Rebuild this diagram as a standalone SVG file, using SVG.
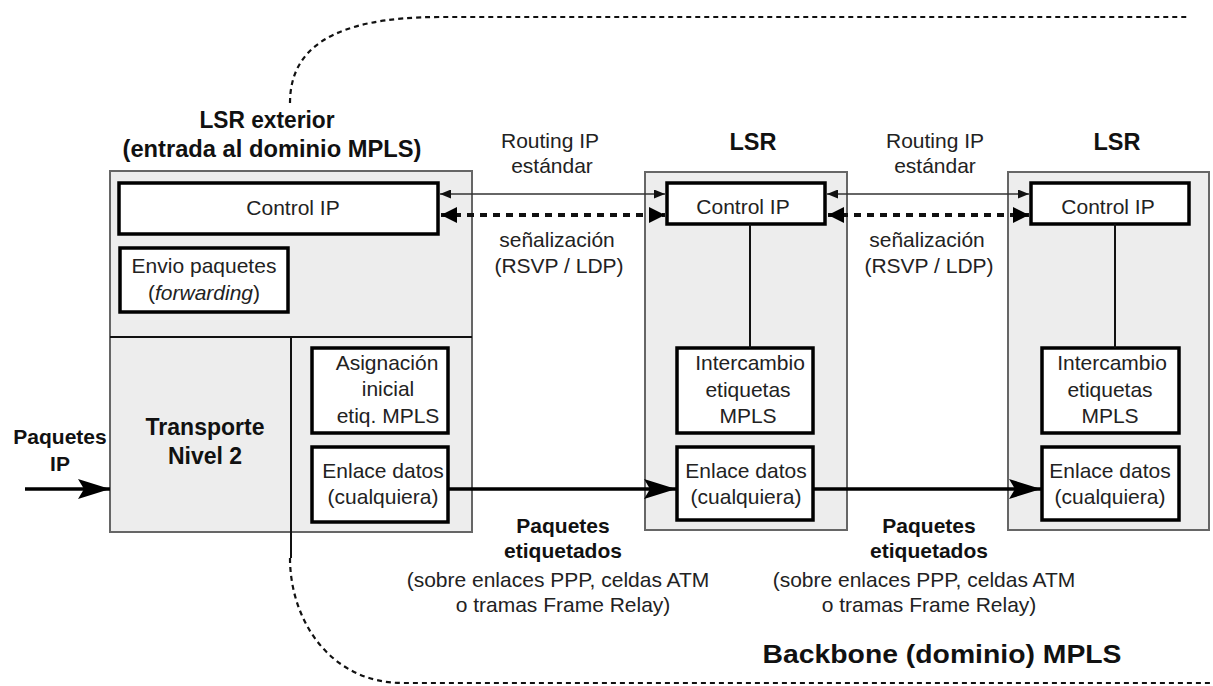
<svg xmlns="http://www.w3.org/2000/svg" width="1213" height="686" viewBox="0 0 1213 686">
<style>
  .bg { fill: #ffffff; }
  .outer { fill: #ededed; stroke: #666666; stroke-width: 2; }
  .inner { fill: #ffffff; stroke: #000000; stroke-width: 3.5; }
  .div { stroke: #111111; stroke-width: 2; fill: none; }
  .t { font-family: "Liberation Sans", Arial, sans-serif; font-size: 21px; fill: #222222; text-anchor: middle; }
  .b { font-family: "Liberation Sans", Arial, sans-serif; font-weight: bold; fill: #111111; text-anchor: middle; }
  .thin { stroke: #333333; stroke-width: 1.6; fill: none; }
  .sig { stroke: #111111; stroke-width: 4; stroke-dasharray: 7 6; fill: none; }
  .data { stroke: #000000; stroke-width: 3.5; fill: none; }
  .bound { stroke: #111111; stroke-width: 2.2; stroke-dasharray: 5 4; fill: none; }
</style>
<defs>
  <marker id="aSmall" markerUnits="userSpaceOnUse" markerWidth="11" markerHeight="9" refX="11" refY="4.5" orient="auto-start-reverse">
    <path d="M0,0 L11,4.5 L0,9 z" fill="#111"/>
  </marker>
  <marker id="aSig" markerUnits="userSpaceOnUse" markerWidth="16" markerHeight="16" refX="16" refY="8" orient="auto-start-reverse">
    <path d="M0,0 L16,8 L0,16 z" fill="#000"/>
  </marker>
  <marker id="aBig" markerUnits="userSpaceOnUse" markerWidth="32" markerHeight="22" refX="32" refY="11" orient="auto">
    <path d="M0,1 L32,11 L0,21 L6,11 z" fill="#000"/>
  </marker>
</defs>
<rect class="bg" x="0" y="0" width="1213" height="686"/>

<g id="boundary">
  <path class="bound" d="M290,103 C290,50 330,17 440,17 L1187,17"/>
  <path class="bound" d="M290,558 C290,620 330,683 403,683 L1213,683"/>
</g>

<g id="lsr-exterior">
  <rect class="outer" x="110" y="171" width="362" height="361"/>
  <line class="div" x1="110" y1="337" x2="472" y2="337"/>
  <line class="div" x1="291" y1="337" x2="291" y2="558"/>
  <text class="b" x="267" y="128" font-size="23" textLength="135" lengthAdjust="spacingAndGlyphs">LSR exterior</text>
  <text class="b" x="272" y="157" font-size="23" textLength="299" lengthAdjust="spacingAndGlyphs">(entrada al dominio MPLS)</text>
  <text class="b" x="205" y="435" font-size="23">Transporte</text>
  <text class="b" x="205" y="464" font-size="23">Nivel 2</text>
</g>

<g id="ext-control-ip">
  <rect class="inner" x="119" y="183" width="319" height="51"/>
  <text class="t" x="293" y="215">Control IP</text>
</g>

<g id="ext-envio">
  <rect class="inner" x="120" y="248" width="168" height="64"/>
  <text class="t" x="204" y="273">Envio paquetes</text>
  <text class="t" x="204" y="300"><tspan>(</tspan><tspan font-style="italic">forwarding</tspan><tspan>)</tspan></text>
</g>

<g id="ext-asignacion">
  <rect class="inner" x="312" y="348" width="136" height="85"/>
  <text class="t" x="387" y="370">Asignación</text>
  <text class="t" x="388" y="396">inicial</text>
  <text class="t" x="388" y="423">etiq. MPLS</text>
</g>

<g id="ext-enlace">
  <rect class="inner" x="312" y="447" width="136" height="75"/>
  <text class="t" x="383" y="478">Enlace datos</text>
  <text class="t" x="383" y="504">(cualquiera)</text>
</g>

<g id="lsr-mid">
  <rect class="outer" x="645" y="172" width="202" height="358"/>
  <text class="b" x="753" y="150" font-size="23.5">LSR</text>
</g>
<g id="mid-control-ip">
  <rect class="inner" x="667" y="183" width="158" height="41"/>
  <text class="t" x="743" y="214">Control IP</text>
</g>
<g id="mid-intercambio">
  <rect class="inner" x="677" y="348" width="136" height="85"/>
  <text class="t" x="750" y="370">Intercambio</text>
  <text class="t" x="748" y="397">etiquetas</text>
  <text class="t" x="748" y="423">MPLS</text>
</g>
<g id="mid-enlace">
  <rect class="inner" x="677" y="447" width="136" height="73"/>
  <text class="t" x="746" y="478">Enlace datos</text>
  <text class="t" x="746" y="504">(cualquiera)</text>
</g>

<g id="lsr-right">
  <rect class="outer" x="1008" y="172" width="201" height="358"/>
  <text class="b" x="1117" y="150" font-size="23.5">LSR</text>
</g>
<g id="right-control-ip">
  <rect class="inner" x="1031" y="183" width="158" height="41"/>
  <text class="t" x="1108" y="214">Control IP</text>
</g>
<g id="right-intercambio">
  <rect class="inner" x="1042" y="348" width="137" height="85"/>
  <text class="t" x="1112" y="370">Intercambio</text>
  <text class="t" x="1110" y="397">etiquetas</text>
  <text class="t" x="1110" y="423">MPLS</text>
</g>
<g id="right-enlace">
  <rect class="inner" x="1042" y="447" width="137" height="73"/>
  <text class="t" x="1110" y="478">Enlace datos</text>
  <text class="t" x="1110" y="504">(cualquiera)</text>
</g>

<g id="connectors">
  <line class="thin" x1="440" y1="194" x2="665" y2="194" marker-start="url(#aSmall)" marker-end="url(#aSmall)"/>
  <line class="sig" x1="441" y1="215" x2="665" y2="215" marker-start="url(#aSig)" marker-end="url(#aSig)"/>
  <line class="thin" x1="827" y1="194" x2="1029" y2="194" marker-start="url(#aSmall)" marker-end="url(#aSmall)"/>
  <line class="sig" x1="828" y1="215" x2="1029" y2="215" marker-start="url(#aSig)" marker-end="url(#aSig)"/>
  <line class="div" x1="750" y1="224" x2="750" y2="348"/>
  <line class="div" x1="1115" y1="224" x2="1115" y2="348"/>
  <line class="data" x1="25" y1="489" x2="110" y2="489" marker-end="url(#aBig)"/>
  <line class="data" x1="448" y1="489" x2="676" y2="489" marker-end="url(#aBig)"/>
  <line class="data" x1="813" y1="489" x2="1041" y2="489" marker-end="url(#aBig)"/>
</g>

<g id="labels">
  <text class="b" x="60" y="444" font-size="21">Paquetes</text>
  <text class="b" x="60" y="471" font-size="21">IP</text>
  <text class="t" x="550" y="148">Routing IP</text>
  <text class="t" x="552" y="173">estándar</text>
  <text class="t" x="557" y="247">señalización</text>
  <text class="t" x="559" y="273">(RSVP / LDP)</text>
  <text class="t" x="935" y="148">Routing IP</text>
  <text class="t" x="935" y="173">estándar</text>
  <text class="t" x="927" y="247">señalización</text>
  <text class="t" x="929" y="273">(RSVP / LDP)</text>
  <text class="b" x="563" y="533" font-size="21">Paquetes</text>
  <text class="b" x="563" y="558" font-size="21">etiquetados</text>
  <text class="t" x="558" y="587">(sobre enlaces PPP, celdas ATM</text>
  <text class="t" x="563" y="612">o tramas Frame Relay)</text>
  <text class="b" x="929" y="533" font-size="21">Paquetes</text>
  <text class="b" x="929" y="558" font-size="21">etiquetados</text>
  <text class="t" x="924" y="587">(sobre enlaces PPP, celdas ATM</text>
  <text class="t" x="929" y="612">o tramas Frame Relay)</text>
  <text class="b" x="942" y="663" font-size="26" textLength="359" lengthAdjust="spacingAndGlyphs">Backbone (dominio) MPLS</text>
</g>
</svg>
